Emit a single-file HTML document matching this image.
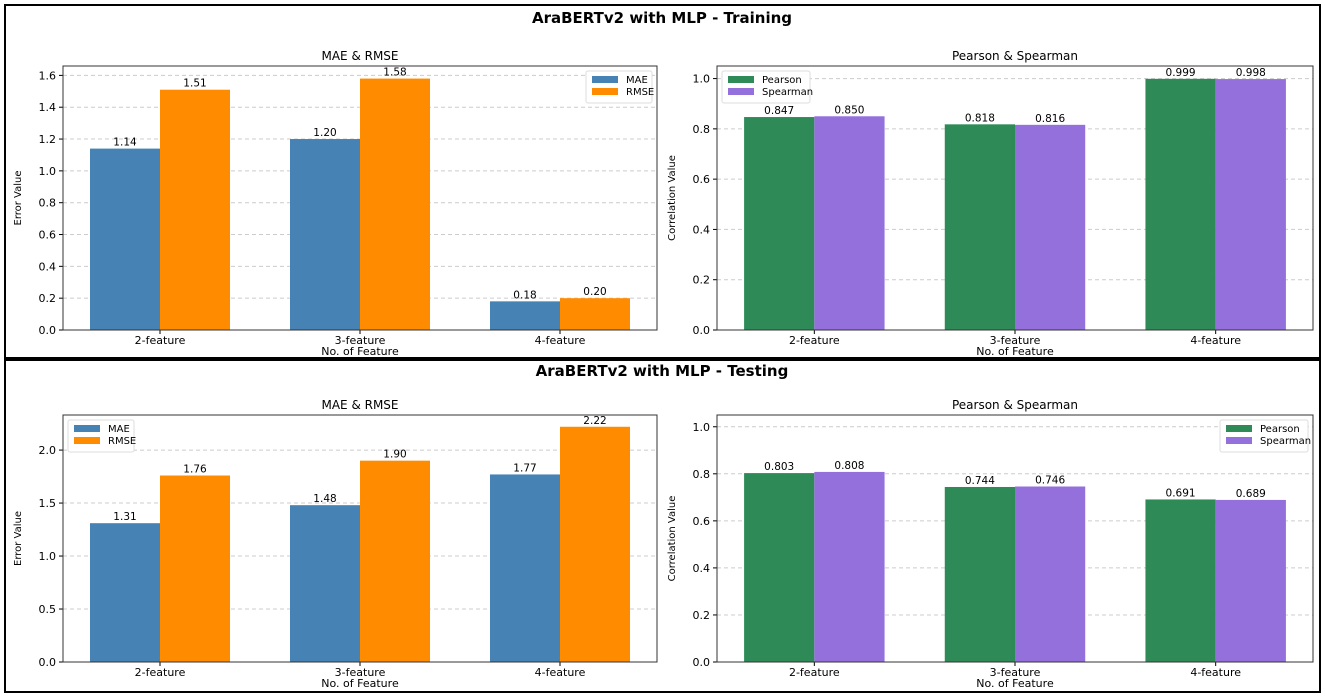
<!DOCTYPE html>
<html><head><meta charset="utf-8">
<style>
html,body{margin:0;padding:0;background:#fff;}
svg{display:block;font-family:"DejaVu Sans","Liberation Sans",sans-serif;}
</style></head>
<body>
<svg id="root" width="1325" height="697" viewBox="0 0 1325 697" xmlns="http://www.w3.org/2000/svg">
<rect x="0" y="0" width="1325" height="697" fill="#fff"/>
<rect x="5" y="5" width="1315" height="353" fill="none" stroke="#000" stroke-width="2"/>
<rect x="5" y="360" width="1315" height="332" fill="none" stroke="#000" stroke-width="2"/>
<text x="662" y="23" text-anchor="middle" font-size="15" font-weight="bold">AraBERTv2 with MLP - Training</text>
<text x="662" y="376" text-anchor="middle" font-size="15" font-weight="bold">AraBERTv2 with MLP - Testing</text>
</svg>
<script>
const categories = ["2-feature","3-feature","4-feature"];
const trainMAE = [1.14,1.20,0.18];
const trainRMSE = [1.51,1.58,0.20];
const trainPearson = [0.847,0.818,0.999];
const trainSpearman = [0.850,0.816,0.998];
const testMAE = [1.31,1.48,1.77];
const testRMSE = [1.76,1.90,2.22];
const testPearson = [0.803,0.744,0.691];
const testSpearman = [0.808,0.746,0.689];
const errTicksTrain = [0,0.2,0.4,0.6,0.8,1.0,1.2,1.4,1.6];
const errTicksTest = [0,0.5,1.0,1.5,2.0];
const corrTicks = [0,0.2,0.4,0.6,0.8,1.0];
const corrMax = 1.05;

const NS="http://www.w3.org/2000/svg";
const root=document.getElementById('root');
function mk(tag,attrs,parent){const e=document.createElementNS(NS,tag);for(const k in attrs)e.setAttribute(k,attrs[k]);(parent||root).appendChild(e);return e;}

function chart(o){
  const g=mk('g',{});
  
  
  const L=o.x0,R=o.x1,T=o.y0,B=o.y1;
  const ymax=o.ymax||Math.max(...o.s1,...o.s2)*1.05;
  const ys=v=>B-(v/ymax)*(B-T);
  const xmin=-0.485,xmax=2.485;
  const xs=v=>L+(v-xmin)/(xmax-xmin)*(R-L);
  const bw=0.35;
  o.ticks.filter(t=>t<=ymax).forEach(t=>{
    const y=ys(t);
    const gl=mk('line',{x1:L,x2:R,y1:y,y2:y,stroke:'#ccc','stroke-dasharray':'4,3','stroke-width':1},g);
    
    
    mk('line',{x1:L-4,x2:L,y1:y,y2:y,stroke:'#000'},g);
    const tl=mk('text',{x:L-7,y:y+4,'text-anchor':'end','font-size':11},g);
    tl.textContent=t.toFixed(o.dec);
    
    
  });
  categories.forEach((c,i)=>{
    [[o.s1,o.c1,-bw/2,o.n1],[o.s2,o.c2,bw/2,o.n2]].forEach(([s,col,off,nm])=>{
      const x=xs(i+off-bw/2), w=xs(i+off+bw/2)-x, y=ys(s[i]);
      const r=mk('rect',{x:x,y:y,width:w,height:B-y,fill:col},g);
      
      
      const t=mk('text',{x:x+w/2,y:y-3,'text-anchor':'middle','font-size':10.5},g);
      t.textContent=s[i].toFixed(o.vdec);
      
      
    });
    const cx=xs(i);
    mk('line',{x1:cx,x2:cx,y1:B,y2:B+4,stroke:'#000'},g);
    const xl=mk('text',{x:cx,y:B+14,'text-anchor':'middle','font-size':11},g);
    xl.textContent=c;
    
    
  });
  mk('rect',{x:L,y:T,width:R-L,height:B-T,fill:'none',stroke:'#333','stroke-width':1},g);
  const ti=mk('text',{x:(L+R)/2,y:T-6,'text-anchor':'middle','font-size':12},g);
  ti.textContent=o.title;
  
  
  const xt=mk('text',{x:(L+R)/2,y:B+25,'text-anchor':'middle','font-size':11},g);
  xt.textContent='No. of Feature';
  
  
  const yt=mk('text',{x:0,y:0,'text-anchor':'middle','font-size':10,transform:`translate(${o.ylx},${(T+B)/2}) rotate(-90)`},g);
  yt.textContent=o.ylabel;
  
  
  const lw=o.lw,lh=32;
  const lx=o.legRight?R-lw-5:L+5, ly=T+5;
  const lg=mk('g',{},g);
  
  
  mk('rect',{x:lx,y:ly,width:lw,height:lh,fill:'#fff',stroke:'#ddd',rx:2},lg);
  [[o.c1,o.n1],[o.c2,o.n2]].forEach(([col,nm],k)=>{
    const e=mk('g',{},lg);
    
    
    mk('rect',{x:lx+6,y:ly+5+k*12,width:26,height:7,fill:col},e);
    const t=mk('text',{x:lx+40,y:ly+12+k*12,'font-size':10},e);
    t.textContent=nm;
  });
}
chart({name:'training-mae-rmse-chart',x0:63,x1:657,y0:66,y1:330,s1:trainMAE,s2:trainRMSE,c1:'#4682b4',c2:'#ff8c00',n1:'MAE',n2:'RMSE',ticks:errTicksTrain,dec:1,vdec:2,title:'MAE & RMSE',ylabel:'Error Value',ylx:21,legRight:true,lw:66});
chart({name:'training-correlation-chart',x0:717,x1:1313,y0:66,y1:330,ymax:corrMax,s1:trainPearson,s2:trainSpearman,c1:'#2e8b57',c2:'#9370db',n1:'Pearson',n2:'Spearman',ticks:corrTicks,dec:1,vdec:3,title:'Pearson & Spearman',ylabel:'Correlation Value',ylx:675,legRight:false,lw:88});
chart({name:'testing-mae-rmse-chart',x0:63,x1:657,y0:415,y1:662,s1:testMAE,s2:testRMSE,c1:'#4682b4',c2:'#ff8c00',n1:'MAE',n2:'RMSE',ticks:errTicksTest,dec:1,vdec:2,title:'MAE & RMSE',ylabel:'Error Value',ylx:21,legRight:false,lw:66});
chart({name:'testing-correlation-chart',x0:717,x1:1313,y0:415,y1:662,ymax:corrMax,s1:testPearson,s2:testSpearman,c1:'#2e8b57',c2:'#9370db',n1:'Pearson',n2:'Spearman',ticks:corrTicks,dec:1,vdec:3,title:'Pearson & Spearman',ylabel:'Correlation Value',ylx:675,legRight:true,lw:88});
</script>
</body></html>
